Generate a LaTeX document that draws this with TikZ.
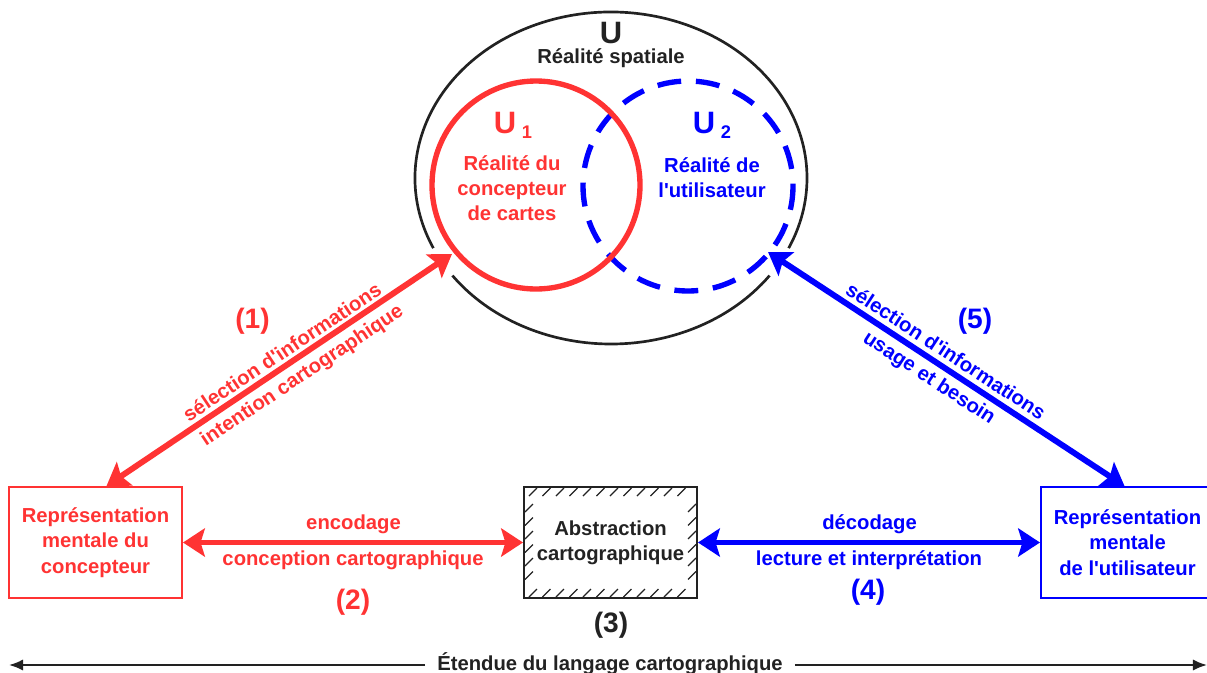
\documentclass[tikz,border=0pt]{standalone}
\usepackage{fontspec}
\setmainfont{Liberation Sans}[Ligatures=TeXOff]
\usetikzlibrary{positioning,arrows.meta,calc}
\definecolor{rouge}{HTML}{FF3333}
\definecolor{bleu}{HTML}{0000FF}
\definecolor{encre}{HTML}{222222}

\begin{document}
\begin{tikzpicture}[x=0.025cm, y=-0.025cm,
  lab/.style={font=\bfseries\fontsize{14.4}{18}\selectfont, align=center, inner sep=1pt},
  num/.style={font=\bfseries\fontsize{20}{24}\selectfont, inner sep=0pt},
  gros/.style={font=\bfseries\fontsize{22}{26}\selectfont, inner sep=0pt},
  boite/.style={lab, draw, line width=1.4pt, minimum width=4.325cm, minimum height=2.775cm},
  arr/.style={{Stealth[length=15.5pt, width=20pt, inset=3pt]}-{Stealth[length=15.5pt, width=20pt, inset=3pt]}, line width=4.2pt},
  fin/.style={-{Latex[length=10pt, width=8pt]}, line width=1.4pt, encre},
  hach/.style={line width=0.9pt, encre}]
\useasboundingbox (0,0) rectangle (1207,672);

\draw[encre, line width=1.9pt] ($(611,178)+(36:196 and 166)$) arc[start angle=36, end angle=144, x radius=196, y radius=166];
\draw[encre, line width=1.9pt] ($(611,178)+(155:196 and 166)$) arc[start angle=155, end angle=385, x radius=196, y radius=166];
\draw[bleu, line width=3.8pt, dash pattern=on 17pt off 10.5pt] (688,186) circle[radius=105];
\draw[rouge, line width=3.8pt] (536,185) circle[radius=104];

\node[gros, encre] (U) at (611,33) {U};
\node[lab, encre] (Utxt) at (611,58) {Réalité spatiale};
\node[gros, rouge] (U1) at (513,125) {U\hspace{4pt}\raisebox{-3.5pt}{\fontsize{13}{13}\selectfont 1}};
\node[lab, rouge] (U1txt) at (512,188) {Réalité du\\concepteur\\de cartes};
\node[gros, bleu] (U2) at (712,125) {U\hspace{4pt}\raisebox{-3.5pt}{\fontsize{13}{13}\selectfont 2}};
\node[lab, bleu] (U2txt) at (712,177.5) {Réalité de\\l'utilisateur};

\node[boite, rouge] (mentalC) at (95.5,542.5) {Représentation\\mentale du\\concepteur};
\node[boite, encre] (abst) at (610.5,542.5) {Abstraction\\cartographique};
\node[boite, bleu] (mentalU) at (1127.5,542.5) {Représentation\\mentale\\de l'utilisateur};

\foreach \i in {0,...,11} {
  \draw[hach] ($(abst.north west)+(6+\i*13.5,10)$) -- ++(8,-8);
  \draw[hach] ($(abst.south west)+(6+\i*13.5,-2)$) -- ++(8,-8);
}
\foreach \j in {0,...,5} {
  \draw[hach] ($(abst.north west)+(2,26+\j*13.5)$) -- ++(8,-8);
  \draw[hach] ($(abst.north east)+(-10,26+\j*13.5)$) -- ++(8,-8);
}

\coordinate (entreeC) at (452,254);
\coordinate (entreeU) at (768,252);
\draw[arr, rouge] ($(mentalC.north)+(11,0)$) -- (entreeC);
\draw[arr, bleu] ($(mentalU.north)+(-3,0)$) -- (entreeU);
\draw[arr, rouge] (mentalC.east) -- (abst.west);
\draw[arr, bleu] (abst.east) -- (mentalU.west);

\foreach \n/\c/\x/\y/\l in
  {enc/rouge/353.5/524/encodage, conc/rouge/353/560/{conception cartographique},
   dec/bleu/869.5/524/décodage, lect/bleu/869/560/{lecture et interprétation}}
  \node[lab, \c] (\n) at (\x,\y) {\l};
\foreach \n/\c/\x/\y/\l in
  {n1/rouge/252.5/321/(1), n2/rouge/353/602/(2), n3/encre/611/625/(3),
   n4/bleu/868/592/(4), n5/bleu/975/321/(5)}
  \node[num, \c] (\n) at (\x,\y) {\l};
\foreach \n/\c/\a/\x/\y/\l in
  {selC/rouge/33.6/281.9/351.8/{sélection d'informations}, intC/rouge/33.6/302.4/376.2/{intention cartographique},
   selU/bleu/-33.1/946.1/350.8/{sélection d'informations}, usU/bleu/-33.1/928.8/378.6/{usage et besoin}}
  \node[lab, \c, rotate=\a, inner sep=0pt] (\n) at (\x,\y) {\l};

\node[lab, encre, fill=white, inner xsep=8.5pt] (etendue) at (610,664) {Étendue du langage cartographique};
\coordinate (bordG) at (9,665);
\coordinate (bordD) at (1207,665);
\draw[fin] (etendue.west |- bordG) -- (bordG);
\draw[fin] (etendue.east |- bordD) -- (bordD);
\end{tikzpicture}
\end{document}
